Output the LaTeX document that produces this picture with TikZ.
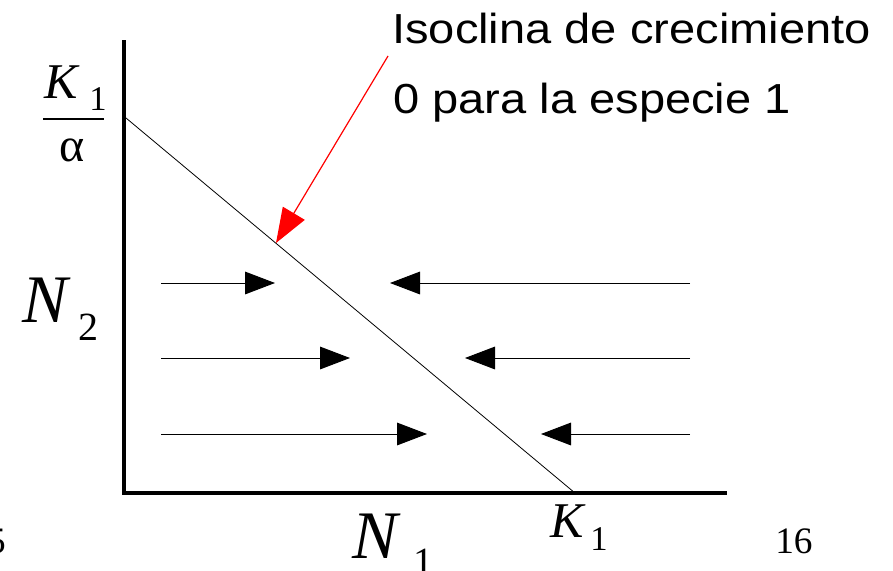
\documentclass[tikz,border=0pt]{standalone}
\usepackage{fontspec}
\setmainfont{Liberation Serif}
\newfontfamily\notefont[FakeStretch=1.12]{Liberation Sans}
\usetikzlibrary{arrows.meta,positioning}
\tikzset{
  ax/.style={line width=3pt, line join=miter},
  iso/.style={line width=0.6pt},
  flow/.style={line width=0.7pt, -{Triangle[length=22.5pt,width=17pt]}},
  ptr/.style={red, line width=0.9pt, -{Triangle[length=26pt,width=19pt]}},
  note/.style={inner sep=0pt, anchor=base west, font=\notefont\fontsize{31.5}{31.5}\selectfont},
  big/.style={inner sep=0pt, anchor=base west, font=\fontsize{51}{51}\selectfont\itshape},
  mid/.style={inner sep=0pt, anchor=base west, font=\fontsize{37.5}{37.5}\selectfont\itshape},
  sub/.style={inner sep=0pt, anchor=base west, font=\fontsize{27}{27}\selectfont},
  pg/.style={inner sep=0pt, font=\fontsize{28}{28}\selectfont},
}

\begin{document}
\begin{tikzpicture}[x=0.75pt, y=-0.75pt]
\useasboundingbox (0,0) rectangle (893,571);
% axes
\coordinate (top) at (124,40);
\coordinate (org) at (124,493);
\coordinate (right) at (727,493);
\draw[ax] (top) -- (org) -- (right);
% zero-growth isocline of species 1
\coordinate (iy) at (126,118);
\coordinate (ix) at (575,493);
\draw[iso] (iy) -- (ix);
% flows toward the isocline
\foreach \y/\l/\r in {283/275/390, 358/350/465, 434/427/541} {
  \draw[flow] (161,\y) -- (\l,\y);
  \draw[flow] (690,\y) -- (\r,\y);
}
% note and its pointer
\node[note] (n1) at (392,43) {Isoclina de crecimiento};
\node[note] (n2) at (393,113) {0 para la especie 1};
\coordinate (from) at (388,56);
\coordinate (hit) at (276,243);
\draw[ptr] (from) -- (hit);
% K1/alpha on the N2 axis
\node[mid] (kt) at (44,98) {K};
\node[sub, font=\fontsize{26}{26}\selectfont] (kts) at (89,110) {1};
\coordinate (bl) at (43,119);
\coordinate (br) at (104,119);
\draw[line width=2.2pt] (bl) -- (br);
\node[sub, font=\fontsize{36}{36}\selectfont] (al) at (59,161) {α};
% axis names
\node[big] (n2l) at (22,322) {N};
\node[sub, font=\fontsize{30}{30}\selectfont] (n2s) at (78,340) {2};
\node[big] (n1l) at (352,558) {N};
\node[sub, font=\fontsize{30}{30}\selectfont] (n1s) at (413,575) {1};
\node[mid] (kb) at (550,537) {K};
\node[sub, font=\fontsize{26}{26}\selectfont] (kbs) at (590,550) {1};
% page numbers
\node[pg, anchor=base east] (p15) at (6,553) {5};
\node[pg, anchor=base west] (p16) at (775,553) {16};
\end{tikzpicture}
\end{document}
